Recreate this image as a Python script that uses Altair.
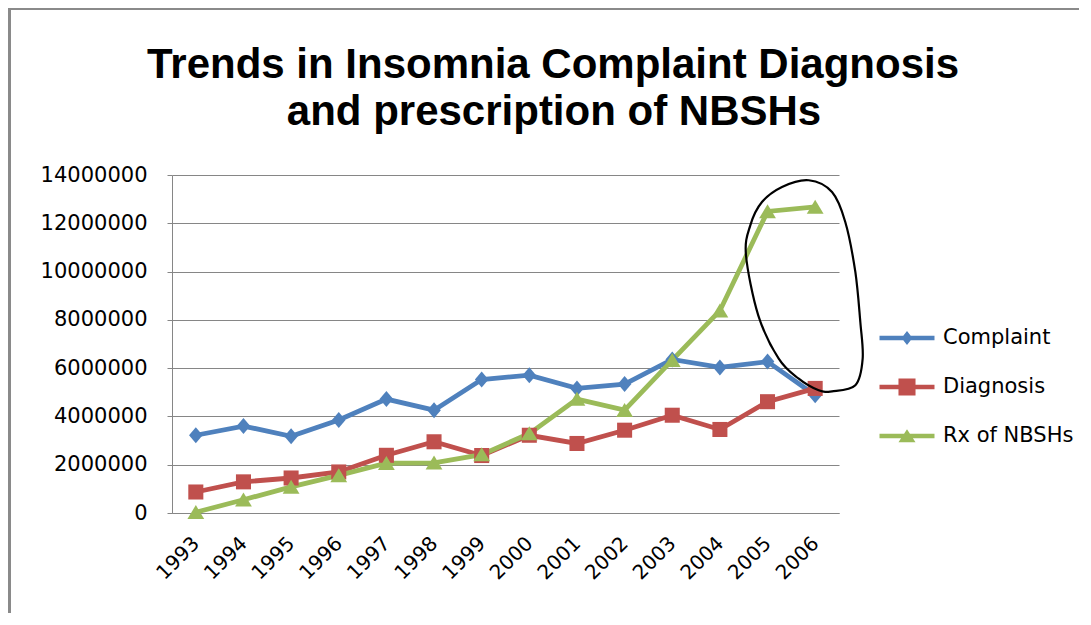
import altair as alt
import pandas as pd

# ---------------- data ----------------
YEARS = ["1993", "1994", "1995", "1996", "1997", "1998", "1999",
         "2000", "2001", "2002", "2003", "2004", "2005", "2006"]
SERIES = ["Complaint", "Diagnosis", "Rx of NBSHs"]
COMPLAINT = [3220000, 3600000, 3180000, 3850000, 4720000, 4260000, 5530000,
             5710000, 5160000, 5340000, 6360000, 6030000, 6270000, 4880000]
DIAGNOSIS = [870000, 1290000, 1450000, 1700000, 2390000, 2950000, 2380000,
             3220000, 2880000, 3430000, 4050000, 3460000, 4610000, 5160000]
RX_NBSH = [30000, 550000, 1080000, 1560000, 2060000, 2080000, 2420000,
           3290000, 4720000, 4260000, 6330000, 8380000, 12490000, 12680000]
Y_TICKS = [0, 2000000, 4000000, 6000000, 8000000, 10000000, 12000000, 14000000]
TITLE_LINES = ["Trends in Insomnia Complaint Diagnosis", "and prescription of NBSHs"]
COLORS = ["#4F81BD", "#C0504D", "#9BBB59"]

# ---------------- layout / style ----------------
PLOT_W, PLOT_H = 667, 338
PAD_L, PAD_T, PAD_R, PAD_B = 164, 167, 240, 100
GRID = "#868686"
FONT = "DejaVu Sans"

# marker paths (chart)
MARKERS = [
    "M0,-1L0.85,0L0,1L-0.85,0Z",
    "M-0.94,-0.94L0.94,-0.94L0.94,0.94L-0.94,0.94Z",
    "M0,-0.9L1.05,0.85L-1.05,0.85Z",
]
# legend symbols: line segment + marker
LEG_LINE = "M-2,-0.16L2,-0.16L2,0.16L-2,0.16Z"
LEGEND_SYMBOLS = [
    LEG_LINE + "M0,-0.51L0.4,0L0,0.51L-0.4,0Z",
    LEG_LINE + "M-0.62,-0.62L0.62,-0.62L0.62,0.62L-0.62,0.62Z",
    LEG_LINE + "M0,-0.5L0.62,0.45L-0.62,0.45Z",
]

# hand drawn annotation loop (offsets in px from its centre)
ANNOT_R = 106
ANNOT_PTS = [(-59, -30), (-46.7, 30.3), (-26.3, 73.7), (-6.3, 93.7), (13.7, 105.3),
             (27, 106.3), (50.3, 100.3), (57.7, 73.7), (55.3, 37), (50.3, -13),
             (40.3, -63), (27, -93), (3.7, -104.7), (-23, -98), (-43, -83),
             (-54.7, -59.7)]


def smooth_closed_path(pts, r):
    p = [(x / r, y / r) for x, y in pts]
    n = len(p)
    d = f"M{p[0][0]:.3f},{p[0][1]:.3f}"
    for i in range(n):
        p0, p1, p2, p3 = p[i - 1], p[i], p[(i + 1) % n], p[(i + 2) % n]
        c1 = (p1[0] + (p2[0] - p0[0]) / 6, p1[1] + (p2[1] - p0[1]) / 6)
        c2 = (p2[0] - (p3[0] - p1[0]) / 6, p2[1] - (p3[1] - p1[1]) / 6)
        d += f"C{c1[0]:.3f},{c1[1]:.3f},{c2[0]:.3f},{c2[1]:.3f},{p2[0]:.3f},{p2[1]:.3f}"
    return d + "Z"


rows = []
for name, vals in zip(SERIES, [COMPLAINT, DIAGNOSIS, RX_NBSH]):
    for yr, v in zip(YEARS, vals):
        rows.append({"year": yr, "series": name, "value": v})
df = pd.DataFrame(rows)

x_enc = alt.X("year:O", sort=YEARS,
              scale=alt.Scale(type="point", padding=0.5),
              axis=alt.Axis(title=None, labelAngle=315, labelAlign="right",
                            labelBaseline="middle", labelFont=FONT, labelFontSize=20,
                            labelColor="black", ticks=False, tickSize=0, labelPadding=27,
                            domainColor=GRID, domainWidth=1, grid=False))
y_enc = alt.Y("value:Q",
              scale=alt.Scale(domain=[0, 14000000], nice=False),
              axis=alt.Axis(title=None, values=Y_TICKS, format="d", labelFont=FONT,
                            labelFontSize=21, labelColor="black", grid=True,
                            gridColor=GRID, gridWidth=1, domainColor=GRID,
                            tickColor=GRID, tickSize=5, labelPadding=20))

color_scale = alt.Scale(domain=SERIES, range=COLORS)

base = alt.Chart(df)

lines = base.mark_line(strokeWidth=4.8).encode(
    x=x_enc, y=y_enc,
    color=alt.Color("series:N", scale=color_scale, legend=None),
    detail="series:N",
)

points = base.mark_point(filled=True, size=256, opacity=1, strokeWidth=0).encode(
    x=x_enc, y=y_enc,
    color=alt.Color("series:N", scale=color_scale, legend=None),
    shape=alt.Shape("series:N", scale=alt.Scale(domain=SERIES, range=MARKERS), legend=None),
)

# legend only: no marks drawn (filtered out), scales carry explicit domains
legend_layer = base.transform_filter("false").mark_point(filled=True, opacity=1).encode(
    x=x_enc, y=y_enc,
    color=alt.Color("series:N", scale=color_scale,
                    legend=alt.Legend(title=None, orient="none", legendX=721, legendY=149,
                                      labelFont=FONT, labelFontSize=21, labelColor="black",
                                      symbolSize=756, symbolStrokeWidth=0, symbolOpacity=1,
                                      rowPadding=25, labelOffset=22)),
    shape=alt.Shape("series:N", scale=alt.Scale(domain=SERIES, range=LEGEND_SYMBOLS)),
)

annot = alt.Chart(pd.DataFrame({"a": [0]})).mark_point(
    shape=smooth_closed_path(ANNOT_PTS, ANNOT_R), filled=False,
    size=(2 * ANNOT_R) ** 2, color="black", strokeWidth=2.2, opacity=1,
).encode(x=alt.value(633), y=alt.value(110))

title1 = alt.Chart(pd.DataFrame({"t": [TITLE_LINES[0]]})).mark_text(
    font="Liberation Sans", fontWeight="bold", fontSize=42, align="center",
    baseline="alphabetic", color="black",
).encode(text="t:N", x=alt.value(381), y=alt.value(-97))

title2 = alt.Chart(pd.DataFrame({"t": [TITLE_LINES[1]]})).mark_text(
    font="Liberation Sans", fontWeight="bold", fontSize=42, align="center",
    baseline="alphabetic", color="black",
).encode(text="t:N", x=alt.value(382), y=alt.value(-50))

frame_left = alt.Chart(pd.DataFrame({"a": [0]})).mark_rect(color="#8a8a8a").encode(
    x=alt.value(-PAD_L), x2=alt.value(-PAD_L + 3),
    y=alt.value(-PAD_T), y2=alt.value(PLOT_H + PAD_B))
frame_top = alt.Chart(pd.DataFrame({"a": [0]})).mark_rect(color="#8a8a8a").encode(
    x=alt.value(-PAD_L), x2=alt.value(PLOT_W + PAD_R),
    y=alt.value(-PAD_T), y2=alt.value(-PAD_T + 2))

chart = alt.layer(
    frame_left, frame_top, lines, points, legend_layer, annot, title1, title2
).resolve_scale(
    color="independent", shape="independent"
).properties(
    width=PLOT_W, height=PLOT_H,
    padding={"left": PAD_L, "top": PAD_T, "right": PAD_R, "bottom": PAD_B},
    autosize=alt.AutoSizeParams(type="none"),
    background="white",
).configure_view(stroke=None)

chart.save("out.html", embed_options={"renderer": "svg", "actions": False})
